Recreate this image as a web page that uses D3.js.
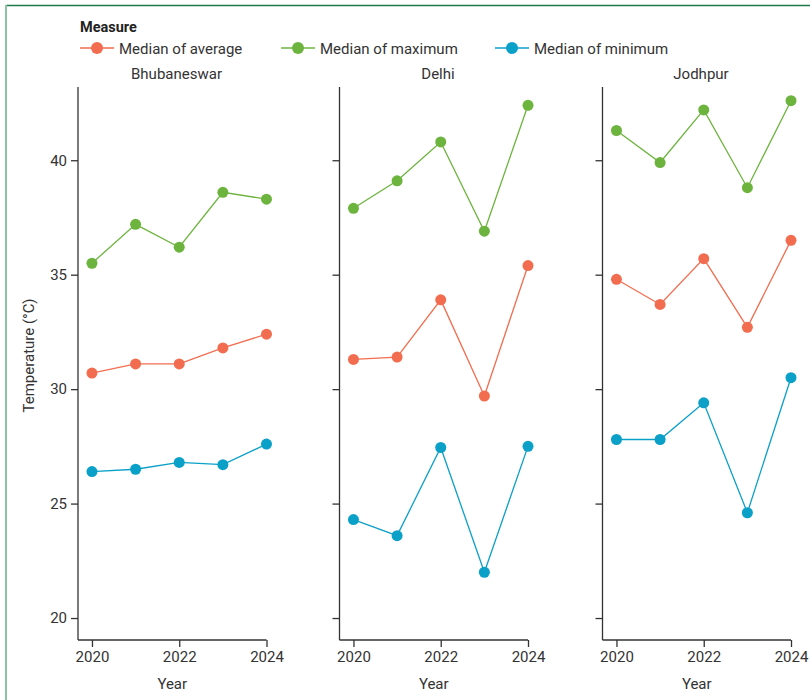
<!DOCTYPE html>
<html><head><meta charset="utf-8">
<script src="https://cdn.jsdelivr.net/npm/d3@7/dist/d3.min.js"></script>
<style>
body{margin:0;background:#fff;}
text{font-family:Roboto,"Open Sans",sans-serif;fill:#333;}
</style></head>
<body><svg id="c" width="810" height="700"></svg>
<script>
const cities = ["Bhubaneswar","Delhi","Jodhpur"];
const years = [2020,2021,2022,2023,2024];
const measures = ["Median of average","Median of maximum","Median of minimum"];
const colors = ["#F26D4F","#6DB43F","#0AA0C8"];
const yTicks = [20,25,30,35,40];
const xTicks = [2020,2022,2024];
// values per city: [average, maximum, minimum]
const bhubaneswarAvg = [30.7,31.1,31.1,31.8,32.4];
const bhubaneswarMax = [35.5,37.2,36.2,38.6,38.3];
const bhubaneswarMin = [26.4,26.5,26.8,26.7,27.6];
const delhiAvg = [31.3,31.4,33.9,29.7,35.4];
const delhiMax = [37.9,39.1,40.8,36.9,42.4];
const delhiMin = [24.3,23.6,27.45,22.0,27.5];
const jodhpurAvg = [34.8,33.7,35.7,32.7,36.5];
const jodhpurMax = [41.3,39.9,42.2,38.8,42.6];
const jodhpurMin = [27.8,27.8,29.4,24.6,30.5];
const cityData = [
  [bhubaneswarAvg,bhubaneswarMax,bhubaneswarMin],
  [delhiAvg,delhiMax,delhiMin],
  [jodhpurAvg,jodhpurMax,jodhpurMin]
];

const FONT = 'Roboto,"Open Sans",sans-serif';
const svg = d3.select("#c");
// frame
svg.append("line").attr("x1",6).attr("x2",810).attr("y1",5.5).attr("y2",5.5).attr("stroke","#1E7B4E").attr("stroke-width",1.5);
svg.append("line").attr("x1",6).attr("x2",6).attr("y1",5).attr("y2",700).attr("stroke","#8CC3A6").attr("stroke-width",2);

const yTop = 87, yBottom = 640;
const y = d3.scaleLinear().domain([19.04,43.2]).range([yBottom,yTop]);
const panelLeft = [78,339.5,602.5];
const panelW = 188.5;

// legend
svg.append("text").attr("x",80).attr("y",32).attr("font-size",14.5).attr("font-weight","bold").style("fill","#222").text("Measure");
const legX = [80,281,495];
measures.forEach((m,i)=>{
  const g = svg.append("g").attr("transform",`translate(${legX[i]},48)`);
  g.append("line").attr("x1",0).attr("x2",34).attr("stroke",colors[i]).attr("stroke-width",1.5);
  g.append("circle").attr("cx",17).attr("r",6).attr("fill",colors[i]);
  g.append("text").attr("x",39).attr("y",5.5).attr("font-size",15).text(m);
});

cities.forEach((city,ci)=>{
  const x0 = panelLeft[ci];
  const x = d3.scaleLinear().domain([2019.68,2024]).range([x0,x0+panelW]);
  const g = svg.append("g");
  g.append("text").attr("x",x0+98.5).attr("y",79).attr("text-anchor","middle").attr("font-size",15).text(city);
  const yAxis = g.append("g").attr("transform",`translate(${x0},0)`)
    .call(d3.axisLeft(y).tickValues(yTicks).tickSize(7).tickPadding(4).tickFormat(ci===0?d3.format("d"):()=>""));
  const xAxis = g.append("g").attr("transform",`translate(0,${yBottom})`)
    .call(d3.axisBottom(x).tickValues(xTicks).tickSize(7).tickPadding(4).tickFormat(d3.format("d")));
  [yAxis,xAxis].forEach(a=>{
    a.select(".domain").attr("stroke","#333").attr("stroke-width",1.3);
    a.selectAll(".tick line").attr("stroke","#333").attr("stroke-width",1.3);
    a.selectAll(".tick text").attr("font-size",15).style("font-family",FONT).style("fill","#333");
  });
  yAxis.select(".domain").attr("d",`M0,${yTop}V${yBottom}`);
  xAxis.select(".domain").attr("d",`M${x0},0H${x0+panelW}`);
  g.append("text").attr("x",x0+panelW/2).attr("y",689).attr("text-anchor","middle").attr("font-size",15).text("Year");
  cityData[ci].forEach((vals,mi)=>{
    const pts = years.map((yr,k)=>[yr,vals[k]]);
    g.append("path").attr("d",d3.line().x(d=>x(d[0])).y(d=>y(d[1]))(pts))
      .attr("fill","none").attr("stroke",colors[mi]).attr("stroke-width",1.3);
    g.selectAll(null).data(pts).enter().append("circle")
      .attr("cx",d=>x(d[0])).attr("cy",d=>y(d[1])).attr("r",5.5).attr("fill",colors[mi]);
  });
});

svg.append("text").attr("transform",`translate(34,${(yTop+yBottom)/2 - 8}) rotate(-90)`)
  .attr("text-anchor","middle").attr("font-size",15).text("Temperature (°C)");
</script></body></html>
